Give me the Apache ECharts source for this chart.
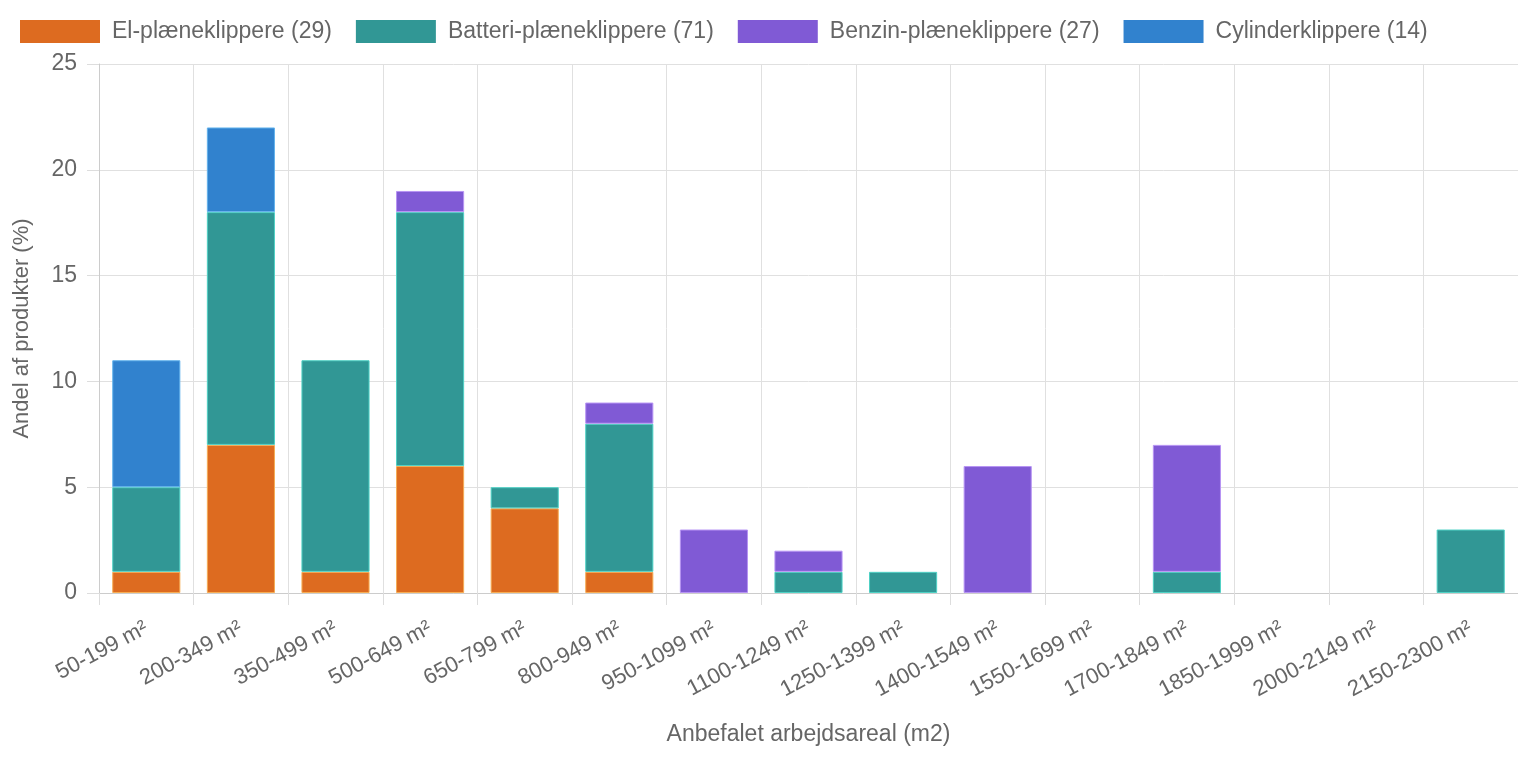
<!DOCTYPE html>
<html>
<head>
<meta charset="utf-8">
<script src="https://cdn.jsdelivr.net/npm/echarts@6/dist/echarts.min.js"></script>
<style>
  html, body { margin: 0; padding: 0; background: #fff; }
  #main { width: 1518px; height: 758px; }
</style>
</head>
<body>
<div id="main"></div>
<script>
const categories = ["50-199 m²", "200-349 m²", "350-499 m²", "500-649 m²", "650-799 m²", "800-949 m²", "950-1099 m²", "1100-1249 m²", "1250-1399 m²", "1400-1549 m²", "1550-1699 m²", "1700-1849 m²", "1850-1999 m²", "2000-2149 m²", "2150-2300 m²"];
const elValues = [1, 7, 1, 6, 4, 1, 0, 0, 0, 0, 0, 0, 0, 0, 0];
const batteriValues = [4, 11, 10, 12, 1, 7, 0, 1, 1, 0, 0, 1, 0, 0, 3];
const benzinValues = [0, 0, 0, 1, 0, 1, 3, 1, 0, 6, 0, 6, 0, 0, 0];
const cylinderValues = [6, 4, 0, 0, 0, 0, 0, 0, 0, 0, 0, 0, 0, 0, 0];
const seriesNames = ["El-plæneklippere (29)", "Batteri-plæneklippere (71)", "Benzin-plæneklippere (27)", "Cylinderklippere (14)"];

const font = "'Liberation Sans', Helvetica, Arial, sans-serif";
const textColor = "#666";
const fs = 23;

const chart = echarts.init(document.getElementById("main"));

// zero values are not drawn (like chart.js)
function bar(name, values, color, border) {
    return {
        name: name,
        type: "bar",
        stack: "all",
        barWidth: "72%",
        data: values.map((v) => (v === 0 ? "-" : v)),
        itemStyle: { color: color, borderColor: border, borderWidth: 1 }
    };
}

chart.setOption({
    animation: false,
    textStyle: { fontFamily: font },
    legend: {
        top: 20,
        left: 20,
        padding: 0,
        itemWidth: 80,
        itemHeight: 23,
        itemGap: 24,
        icon: "rect",
        itemStyle: { borderWidth: 0 },
        textStyle: { fontSize: fs, color: textColor, fontFamily: font, padding: [2, 0, 0, 7] }
    },
    grid: { left: 99, right: 0, top: 64, bottom: 165 },
    xAxis: {
        type: "category",
        data: categories,
        name: "Anbefalet arbejdsareal (m2)",
        nameLocation: "middle",
        nameGap: 130,
        nameTextStyle: { fontSize: fs, color: textColor, fontFamily: font },
        axisLine: { lineStyle: { color: "#ccc", width: 1 } },
        axisTick: { show: true, length: 12, lineStyle: { color: "#ddd" } },
        splitLine: { show: true, lineStyle: { color: "#e0e0e0" } },
        axisLabel: { rotate: 28, fontSize: fs - 1, color: textColor, margin: 34, fontFamily: font, interval: 0 }
    },
    yAxis: {
        type: "value",
        min: 0,
        max: 25,
        interval: 5,
        name: "Andel af produkter (%)",
        nameLocation: "middle",
        nameGap: 66,
        nameTextStyle: { fontSize: fs - 1, color: textColor, fontFamily: font },
        axisLine: { show: true, lineStyle: { color: "#ccc", width: 1 } },
        axisTick: { show: true, length: 12, lineStyle: { color: "#ddd" } },
        splitLine: { lineStyle: { color: "#e0e0e0" } },
        axisLabel: { fontSize: fs, color: textColor, margin: 22, fontFamily: font }
    },
    series: [
        bar(seriesNames[0], elValues, "#DD6B20", "#F6AD55"),
        bar(seriesNames[1], batteriValues, "#319795", "#4FD1C5"),
        bar(seriesNames[2], benzinValues, "#805AD5", "#B794F4"),
        bar(seriesNames[3], cylinderValues, "#3182CE", "#63B3ED")
    ]
});
</script>
</body>
</html>
